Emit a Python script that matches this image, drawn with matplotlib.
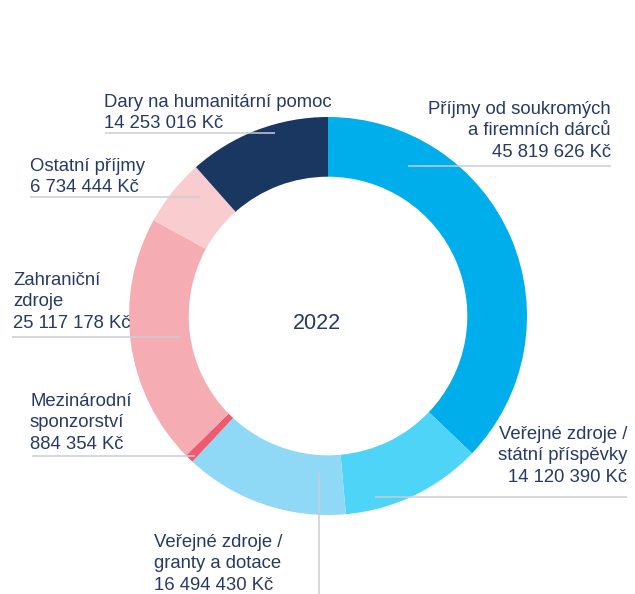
import matplotlib.pyplot as plt

# order clockwise from 12 o'clock
labels = [
    "Příjmy od soukromých\na firemních dárců",
    "Veřejné zdroje /\nstátní příspěvky",
    "Veřejné zdroje /\ngranty a dotace",
    "Mezinárodní\nsponzorství",
    "Zahraniční\nzdroje",
    "Ostatní příjmy",
    "Dary na humanitární pomoc",
]
values = [45819626, 14120390, 16494430, 884354, 25117178, 6734444, 14253016]
amounts = ["45 819 626 Kč", "14 120 390 Kč", "16 494 430 Kč", "884 354 Kč",
           "25 117 178 Kč", "6 734 444 Kč", "14 253 016 Kč"]
colors = ["#00AEEC", "#4DD4F6", "#8FD9F7", "#EE5A6F", "#F5ADB3", "#F9CDD0", "#1A3761"]
year = "2022"

W, H = 635, 594
text_col = "#263A63"
line_col = "#C9CDD3"

plt.rcParams['font.family'] = ['Liberation Sans', 'DejaVu Sans']

fig = plt.figure(figsize=(W / 100, H / 100), dpi=100)
ax = fig.add_axes([0, 0, 1, 1])


def Y(py):
    return H - py


cx, cy, r = 328, 316, 199
ax.pie(values, colors=colors, startangle=90, counterclock=False,
       center=(cx, Y(cy)), radius=r,
       wedgeprops=dict(width=r * 0.30, linewidth=0))
ax.set_xlim(0, W)
ax.set_ylim(0, H)
ax.set_aspect('equal')
ax.axis('off')

ax.text(316.5, Y(329), year, fontsize=15.5, color=text_col, ha='center', va='baseline')

# label placement: x, first baseline (px), alignment, leader line
place = [
    (611, 114, 'right', ((408, 166), (611, 166))),
    (627, 439, 'right', ((375, 497), (627, 497))),
    (154, 547, 'left', ((319, 473), (319, 594))),
    (30, 406, 'left', ((32, 456), (195, 456))),
    (13, 285, 'left', ((12, 337), (180, 337))),
    (30, 171, 'left', ((30, 197), (200, 197))),
    (104, 107, 'left', ((105, 133), (275, 133))),
]
step = 21.4
for lab, amt, (x, y0, ha, seg) in zip(labels, amounts, place):
    lines = lab.split("\n") + [amt]
    for i, s in enumerate(lines):
        ax.text(x, Y(y0 + i * step), s, fontsize=13.3, color=text_col,
                ha=ha, va='baseline')
    (x1, y1), (x2, y2) = seg
    ax.plot([x1, x2], [Y(y1), Y(y2)], color=line_col, lw=1.1, solid_capstyle='butt')

fig.savefig("out.png", dpi=100)
